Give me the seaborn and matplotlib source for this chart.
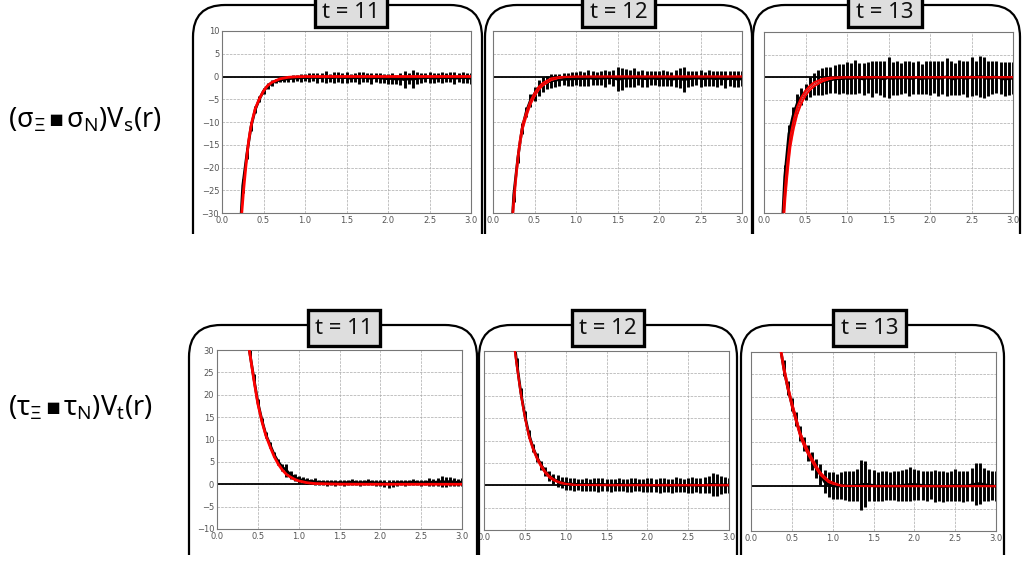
import numpy as np
import pandas as pd
import matplotlib
matplotlib.use("Agg")
import matplotlib.pyplot as plt
from matplotlib.patches import FancyBboxPatch, Rectangle
import seaborn as sns

# --- data ---
r_data = [0.20, 0.25, 0.30, 0.35, 0.40, 0.45, 0.50, 0.55, 0.60, 0.65, 0.70, 0.75, 0.80, 0.85, 0.90, 0.95,
          1.00, 1.05, 1.10, 1.15, 1.20, 1.25, 1.30, 1.35, 1.40, 1.45, 1.50, 1.55, 1.60, 1.65, 1.70, 1.75, 1.80, 1.85, 1.90, 1.95,
          2.00, 2.05, 2.10, 2.15, 2.20, 2.25, 2.30, 2.35, 2.40, 2.45, 2.50, 2.55, 2.60, 2.65, 2.70, 2.75, 2.80, 2.85, 2.90, 2.95, 3.00]

# top row: (sigma.sigma) Vs(r), t = 11, 12, 13
vs11 = [-40, -24, -17, -11, -7.3, -5.0, -3.2, -2.1, -1.4, -1.0, -0.8, -0.6, -0.5, -0.4, -0.3, -0.3,
        -0.2, -0.3, -0.1, -0.3, -0.2, -0.1, -0.3, -0.2, -0.1, -0.3, -0.2, -0.4, -0.2, -0.3, -0.1, -0.3, -0.4, -0.2, -0.3, -0.4,
        -0.5, -0.4, -0.6, -0.5, -0.7, -0.5, -0.6, -0.4, -0.3, -0.3, -0.2, -0.4, -0.3, -0.2, -0.3, -0.2, -0.4, -0.3, -0.2, -0.3, -0.4]
vs11_err = [2.0, 1.5, 1.2, 0.9, 0.8, 0.7, 0.6, 0.6, 0.6, 0.5, 0.5, 0.6, 0.6, 0.7, 0.7, 0.8,
            0.8, 1.0, 0.9, 1.1, 1.0, 1.3, 0.9, 1.2, 1.0, 1.1, 1.2, 0.9, 1.0, 1.3, 1.1, 1.0, 1.2, 1.0, 1.1, 1.0,
            1.1, 1.2, 1.0, 1.3, 1.9, 1.2, 2.0, 1.3, 1.1, 1.0, 1.2, 1.1, 1.0, 1.2, 1.0, 1.1, 1.3, 1.0, 1.2, 1.1, 1.2]
vs12 = [-42, -26, -17.8, -11.5, -7.8, -5.3, -3.8, -2.5, -1.7, -1.3, -1.0, -0.8, -0.7, -0.6, -0.6, -0.5,
        -0.5, -0.4, -0.5, -0.3, -0.4, -0.5, -0.3, -0.4, -0.2, -0.3, -0.6, -0.5, -0.3, -0.4, -0.2, -0.3, -0.4, -0.5, -0.3, -0.4,
        -0.5, -0.3, -0.4, -0.6, -0.5, -0.4, -0.7, -0.5, -0.4, -0.3, -0.4, -0.5, -0.3, -0.4, -0.5, -0.3, -0.6, -0.4, -0.5, -0.6, -0.5]
vs12_err = [2.0, 1.6, 1.3, 1.2, 1.2, 1.4, 1.6, 1.7, 1.6, 1.5, 1.5, 1.4, 1.3, 1.3, 1.4, 1.5,
            1.4, 1.6, 1.5, 1.7, 1.5, 1.4, 1.6, 1.8, 1.5, 1.7, 2.6, 2.4, 1.9, 1.8, 2.0, 1.6, 1.8, 1.7, 1.6, 1.5,
            1.6, 1.8, 1.7, 1.5, 1.9, 2.2, 2.8, 1.8, 1.7, 1.6, 1.8, 1.5, 1.7, 1.6, 1.8, 1.5, 1.9, 1.6, 1.7, 1.8, 1.6]
vs13 = [-40, -22, -12.5, -8.5, -5.8, -4.2, -3.2, -2.2, -1.5, -1.2, -1.0, -0.8, -0.6, -0.4, -0.3, -0.3,
        -0.2, -0.3, 0.0, -0.2, -0.4, -0.1, -0.3, 0.1, -0.2, -0.4, 0.0, -0.3, -0.1, -0.2, 0.1, -0.3, -0.2, 0.0, -0.4, -0.1,
        -0.2, 0.0, -0.3, -0.1, 0.1, -0.2, -0.4, 0.0, -0.1, -0.3, 0.1, -0.2, 0.2, 0.0, -0.3, -0.1, 0.1, -0.2, -0.4, -0.3, -0.2]
vs13_err = [3.0, 2.5, 2.0, 2.0, 2.0, 1.9, 1.8, 2.2, 2.5, 2.8, 3.0, 3.0, 2.8, 3.0, 3.3, 3.2,
            3.5, 3.4, 3.8, 3.3, 3.6, 3.4, 4.0, 3.5, 3.7, 3.9, 4.5, 3.6, 3.8, 3.4, 3.6, 3.9, 3.5, 3.7, 3.4, 3.6,
            3.8, 3.5, 3.9, 3.6, 4.2, 3.7, 3.5, 3.9, 3.6, 4.0, 4.3, 3.8, 4.6, 4.5, 3.9, 3.7, 3.6, 3.5, 3.8, 3.6, 3.5]

# bottom row: (tau.tau) Vt(r)
vt11 = [62, 52, 44, 37, 29.5, 23.8, 18.3, 14.3, 11.0, 8.8, 6.6, 5.0, 3.8, 3.1, 2.1, 1.6,
        1.1, 0.9, 0.7, 0.6, 0.6, 0.4, 0.4, 0.3, 0.4, 0.3, 0.4, 0.3, 0.4, 0.5, 0.4, 0.3, 0.4, 0.5, 0.4, 0.3,
        0.3, 0.2, 0.1, 0.2, 0.3, 0.4, 0.3, 0.4, 0.5, 0.4, 0.3, 0.4, 0.5, 0.4, 0.5, 0.6, 0.5, 0.6, 0.5, 0.4, 0.5]
vt11_err = [1.0, 1.0, 1.0, 1.0, 0.8, 0.8, 0.7, 0.6, 0.6, 0.6, 0.6, 0.7, 0.8, 1.5, 0.9, 0.8,
            0.8, 0.7, 0.7, 0.6, 0.7, 0.6, 0.6, 0.7, 0.6, 0.7, 0.6, 0.7, 0.6, 0.7, 0.6, 0.7, 0.6, 0.7, 0.6, 0.7,
            0.7, 0.8, 0.9, 0.8, 0.7, 0.6, 0.7, 0.6, 0.7, 0.6, 0.7, 0.6, 0.8, 0.7, 0.9, 1.2, 1.1, 1.0, 0.9, 0.8, 0.8]
vt12 = [62, 52, 44, 35.5, 27.5, 20.8, 15.6, 11.4, 8.4, 6.2, 4.5, 3.1, 2.1, 1.4, 0.9, 0.6,
        0.4, 0.3, 0.2, 0.2, 0.1, 0.2, 0.1, 0.2, 0.1, 0.2, 0.1, 0.0, 0.1, 0.2, 0.1, 0.0, 0.1, 0.2, 0.1, 0.0,
        0.1, 0.0, -0.1, 0.0, 0.1, 0.0, -0.1, 0.1, 0.0, -0.1, 0.0, 0.1, 0.0, -0.1, 0.0, 0.1, 0.2, 0.1, 0.0, 0.1, 0.0]
vt12_err = [1.2, 1.2, 1.2, 1.2, 1.0, 1.0, 1.0, 0.9, 0.9, 0.9, 1.0, 1.0, 1.1, 1.2, 1.3, 1.3,
            1.4, 1.3, 1.4, 1.3, 1.4, 1.5, 1.4, 1.5, 1.6, 1.5, 1.4, 1.5, 1.4, 1.5, 1.4, 1.5, 1.6, 1.5, 1.4, 1.5,
            1.5, 1.6, 1.5, 1.7, 1.6, 1.5, 1.6, 1.7, 1.6, 1.5, 1.7, 1.8, 1.6, 1.7, 1.8, 1.9, 2.6, 2.4, 2.0, 1.8, 1.7]
vt13 = [55, 45, 38, 32, 26.5, 22.0, 18.3, 15.0, 11.8, 9.4, 7.5, 5.6, 4.0, 2.6, 1.0, 0.4,
        0.2, 0.0, 0.1, 0.2, 0.0, 0.1, 0.2, 0.3, 0.5, 0.3, 0.2, 0.0, 0.1, 0.2, 0.0, 0.1, 0.0, 0.2, 0.3, 0.4,
        0.4, 0.3, 0.2, 0.1, 0.2, 0.0, 0.1, -0.1, 0.0, 0.1, 0.2, 0.1, 0.0, 0.1, 0.3, 0.5, 0.6, 0.4, 0.2, 0.1, 0.0]
vt13_err = [2.0, 2.0, 2.0, 2.0, 1.8, 1.6, 1.5, 1.5, 1.6, 1.6, 1.8, 2.0, 2.2, 2.3, 2.6, 2.8,
            3.0, 2.8, 3.0, 3.2, 3.4, 3.3, 3.6, 5.5, 5.2, 3.6, 3.4, 3.2, 3.4, 3.3, 3.1, 3.2, 3.4, 3.5, 3.6, 3.8,
            3.4, 3.3, 3.2, 3.4, 3.1, 3.6, 3.3, 3.5, 3.2, 3.4, 3.6, 3.3, 3.5, 3.4, 3.7, 4.8, 4.6, 3.6, 3.4, 3.2, 3.3]

# fit curves (red)
fit_r_top = [0.22, 0.238, 0.26, 0.28, 0.30, 0.32, 0.34, 0.36, 0.40, 0.45, 0.50, 0.55, 0.60, 0.70, 0.80, 0.90, 1.00, 1.50, 2.00, 2.50, 3.00]
fit_vs11 = [-36, -30, -25, -21.2, -17.5, -14.3, -12, -10, -7.1, -4.9, -3.2, -2.0, -1.3, -0.5, -0.17, -0.05, -0.01, 0, 0, 0, 0]
fit_vs12 = [-36, -30, -25.5, -21.5, -18, -15, -12.8, -10.8, -8.4, -5.8, -4.0, -2.6, -1.7, -0.6, -0.2, -0.06, -0.01, 0, 0, 0, 0]
band_vs12 = [1.5, 1.3, 1.1, 1.0, 0.9, 0.8, 0.7, 0.65, 0.55, 0.45, 0.4, 0.35, 0.3, 0.2, 0.1, 0.04, 0.01, 0, 0, 0, 0]
fit_vs13 = [-38, -30, -24.5, -20.5, -17, -14, -12, -10.2, -7.4, -5.1, -3.5, -2.4, -1.6, -0.65, -0.2, -0.05, -0.01, 0, 0, 0, 0]
band_vs13 = [2.5, 2.2, 1.9, 1.7, 1.5, 1.3, 1.2, 1.1, 0.9, 0.75, 0.6, 0.5, 0.45, 0.3, 0.15, 0.05, 0.02, 0, 0, 0, 0]

fit_r_bot = [0.35, 0.378, 0.40, 0.45, 0.50, 0.55, 0.60, 0.65, 0.70, 0.75, 0.80, 0.85, 0.90, 0.95, 1.00, 1.10, 1.20, 1.50, 2.00, 2.50, 3.00]
fit_vt11 = [40, 34, 29.5, 23.5, 18, 14, 10.8, 8.4, 6.2, 4.5, 3.2, 2.2, 1.6, 1.1, 0.75, 0.35, 0.15, 0.02, 0, 0, 0]
fit_vt12 = [35, 30, 27, 20.6, 15.3, 11, 8.2, 6.0, 4.3, 2.9, 1.9, 1.25, 0.8, 0.5, 0.3, 0.1, 0.03, 0, 0, 0, 0]
band_vt12 = [0.4, 0.4, 0.4, 0.35, 0.3, 0.3, 0.3, 0.25, 0.25, 0.2, 0.2, 0.15, 0.1, 0.1, 0.05, 0.02, 0, 0, 0, 0, 0]
fit_vt13 = [32, 29, 26.5, 22.2, 18.3, 15, 11.7, 9.4, 7.5, 5.8, 4.2, 2.8, 1.9, 1.1, 0.7, 0.15, 0.05, 0, 0, 0, 0]
band_vt13 = [0.7, 0.7, 0.7, 0.6, 0.6, 0.55, 0.5, 0.5, 0.45, 0.4, 0.35, 0.3, 0.25, 0.2, 0.15, 0.05, 0.02, 0, 0, 0, 0]

times = ["t = 11", "t = 12", "t = 13"]
row_labels = [r"$\mathrm{(σ_{Ξ}\,▪\,σ_{N})V_{s}(r)}$", r"$\mathrm{(τ_{Ξ}\,▪\,τ_{N})V_{t}(r)}$"]
x_ticks = [0.0, 0.5, 1.0, 1.5, 2.0, 2.5, 3.0]
y_ticks_top = [-30, -25, -20, -15, -10, -5, 0, 5, 10]
y_ticks_bot = [-10, -5, 0, 5, 10, 15, 20, 25, 30]

# --- style ---
sns.set_theme(style="whitegrid")
plt.rcParams.update({
    "font.family": ["DejaVu Sans"],
    "axes.edgecolor": "#777777",
    "axes.linewidth": 0.8,
    "grid.color": "#aaaaaa",
    "grid.linestyle": "--",
    "grid.linewidth": 0.5,
    "xtick.labelsize": 6,
    "ytick.labelsize": 6,
    "xtick.color": "#555555",
    "ytick.color": "#555555",
    "xtick.major.size": 0,
    "ytick.major.size": 0,
    "xtick.major.pad": 2,
    "ytick.major.pad": 2,
    "mathtext.fontset": "custom",
    "mathtext.rm": "Noto Sans",
    "mathtext.it": "Noto Sans:italic",
    "mathtext.bf": "Noto Sans:bold",
    "mathtext.fallback": "stixsans",
})

W, H = 1024, 576
fig = plt.figure(figsize=(W / 100, H / 100), dpi=100)


def px_axes(x0, y0, x1, y1):
    return fig.add_axes([x0 / W, 1 - y1 / H, (x1 - x0) / W, (y1 - y0) / H])


panels = [
    # (pixel box, data, err, fit r, fit, band, ylim, yticks, show y labels)
    ((222, 31, 471, 213), vs11, vs11_err, fit_r_top, fit_vs11, None, (-30, 10), y_ticks_top, True),
    ((493, 31, 742, 213), vs12, vs12_err, fit_r_top, fit_vs12, band_vs12, (-30, 10), y_ticks_top, False),
    ((764, 32, 1013, 213), vs13, vs13_err, fit_r_top, fit_vs13, band_vs13, (-30, 10), y_ticks_top, False),
    ((217, 350, 462, 529), vt11, vt11_err, fit_r_bot, fit_vt11, None, (-10, 30), y_ticks_bot, True),
    ((484, 351, 729, 530), vt12, vt12_err, fit_r_bot, fit_vt12, band_vt12, (-10, 30), y_ticks_bot, False),
    ((751, 352, 996, 531), vt13, vt13_err, fit_r_bot, fit_vt13, band_vt13, (-10, 30), y_ticks_bot, False),
]

for box, vals, errs, fr, fv, band, ylim, yt, showy in panels:
    assert len(vals) == len(r_data) and len(errs) == len(r_data)
    ax = px_axes(*box)
    ax.set_facecolor("white")
    ax.axhline(0, color="black", lw=1.3, zorder=1.5)
    ax.errorbar(r_data, vals, yerr=errs, fmt="none", ecolor="black", elinewidth=2.1, zorder=2)
    ax.plot(r_data, vals, color="black", lw=2.0, zorder=2)
    fit = pd.DataFrame({"r": fr, "v": fv})
    if band is None:
        sns.lineplot(data=fit, x="r", y="v", ax=ax, color="red", lw=2.0, zorder=3)
    else:
        lo = [v - b for v, b in zip(fv, band)]
        hi = [v + b for v, b in zip(fv, band)]
        ax.fill_between(fr, lo, hi, color="#f6b3b3", zorder=3, lw=0)
        sns.lineplot(x=fr, y=lo, ax=ax, color="red", lw=1.3, zorder=3.1)
        sns.lineplot(x=fr, y=hi, ax=ax, color="red", lw=1.3, zorder=3.1)
        sns.lineplot(data=fit, x="r", y="v", ax=ax, color="#cc0000", lw=0.6, zorder=3.2)
    ax.set_xlim(0, 3)
    ax.set_ylim(*ylim)
    ax.set_xticks(x_ticks)
    ax.set_xticklabels([f"{t:.1f}" for t in x_ticks])
    ax.set_yticks(yt)
    ax.set_yticklabels([f"{t:d}".replace("-", "\u2212") for t in yt] if showy else [])
    ax.set_xlabel("")
    ax.set_ylabel("")
    ax.grid(True)

# --- overlay: frames, title boxes, row labels ---
ov = fig.add_axes([0, 0, 1, 1], zorder=10)
ov.set_xlim(0, W)
ov.set_ylim(H, 0)
ov.axis("off")

frames = [
    (193, 482, 5, 234), (485, 752, 5, 234), (753, 1020, 5, 234),
    (189, 477, 325, 555), (479, 737, 325, 555), (741, 1004, 325, 555),
]
for x0, x1, y0, ycut in frames:
    p = FancyBboxPatch((x0, y0), x1 - x0, 120 + ycut - y0,
                       boxstyle="round,pad=0,rounding_size=32",
                       fc="none", ec="black", lw=1.6)
    ov.add_patch(p)
    clip = Rectangle((x0 - 10, y0 - 10), x1 - x0 + 20, ycut - y0 + 10,
                     transform=ov.transData, fc="none", ec="none")
    p.set_clip_path(clip)

title_boxes = [
    (315, 387, -10, 27, 12), (582, 655, -10, 27, 12), (848, 922, -10, 27, 12),
    (308, 380, 310, 346, 328), (572, 644, 310, 346, 328), (833, 906, 310, 346, 328),
]
for i, (x0, x1, y0, y1, yc) in enumerate(title_boxes):
    ov.add_patch(Rectangle((x0, y0), x1 - x0, y1 - y0, fc="#dedede", ec="black", lw=2.4, zorder=5))
    ov.text((x0 + x1) / 2, yc, times[i % 3], ha="center", va="center",
            fontsize=16, fontweight="medium", family=["Noto Sans", "DejaVu Sans"],
            color="#111111", zorder=6)

ov.text(8, 120, row_labels[0], ha="left", va="center", fontsize=19.5, color="black")
ov.text(8, 408, row_labels[1], ha="left", va="center", fontsize=19.5, color="black")

fig.savefig("out.png", dpi=100)
